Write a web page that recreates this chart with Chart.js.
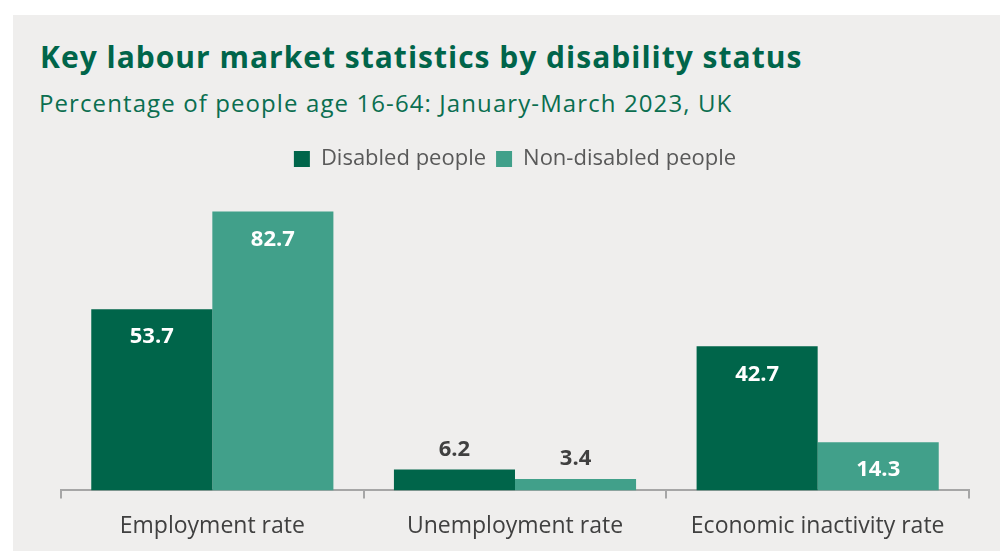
<!DOCTYPE html>
<html>
<head>
<meta charset="utf-8">
<script src="https://cdn.jsdelivr.net/npm/chart.js@4/dist/chart.umd.min.js"></script>
<style>
  body { margin: 0; background: #ffffff; overflow: hidden; }
  #panneau { position: absolute; left: 13px; top: 15px; width: 987px; height: 536px; background: #efeeed; }
  #titre { position: absolute; left: 40px; top: 42px; margin: 0; font: bold 30px "Open Sans", sans-serif; line-height: 1; letter-spacing: 1px; color: #00654a; white-space: nowrap; }
  #soustitre { position: absolute; left: 39px; top: 91px; margin: 0; font: 24px "Open Sans", sans-serif; line-height: 1; letter-spacing: 1.1px; color: #0b6e50; white-space: nowrap; }
  #graph { position: absolute; left: 0; top: 0; }
</style>
</head>
<body>
<div id="panneau"></div>
<h1 id="titre">Key labour market statistics by disability status</h1>
<h2 id="soustitre">Percentage of people age 16-64: January-March 2023, UK</h2>
<canvas id="graph" width="1000" height="564"></canvas>
<script>
const categories = ['Employment rate', 'Unemployment rate', 'Economic inactivity rate'];
const seriesNames = ['Disabled people', 'Non-disabled people'];
const valeursHandicap = [53.7, 6.2, 42.7];
const valeursSansHandicap = [82.7, 3.4, 14.3];

const vert = '#00654a';
const vertClair = '#41a08a';

// écrit la valeur de chaque barre : dedans en blanc si la barre est haute, au-dessus sinon
const etiquettes = {
    id: 'etiquettes',
    afterDatasetsDraw(chart) {
        const ctx = chart.ctx;
        ctx.save();
        ctx.font = 'bold 22px "Open Sans", sans-serif';
        ctx.textAlign = 'center';
        ctx.textBaseline = 'middle';
        chart.data.datasets.forEach((ds, i) => {
            chart.getDatasetMeta(i).data.forEach((bar, j) => {
                const v = ds.data[j];
                if (v > 10) {
                    ctx.fillStyle = '#ffffff';
                    ctx.fillText(v.toFixed(1), bar.x, bar.y + 28);
                } else {
                    ctx.fillStyle = '#404040';
                    ctx.fillText(v.toFixed(1), bar.x, bar.y - 20);
                }
            });
        });
        ctx.restore();
    }
};

new Chart(document.getElementById('graph'), {
    type: 'bar',
    data: {
        labels: categories,
        datasets: [
            { label: seriesNames[0], data: valeursHandicap, backgroundColor: vert },
            { label: seriesNames[1], data: valeursSansHandicap, backgroundColor: vertClair }
        ]
    },
    options: {
        responsive: false,
        animation: false,
        categoryPercentage: 0.8,
        barPercentage: 1.0,
        layout: { padding: { left: 61, right: 31, top: 138, bottom: 10 } },
        plugins: {
            legend: {
                position: 'top',
                labels: {
                    boxWidth: 16,
                    boxHeight: 16,
                    padding: 10,
                    color: '#595959',
                    font: { family: '"Open Sans", sans-serif', size: 22 }
                }
            },
            tooltip: { enabled: false }
        },
        scales: {
            x: {
                grid: { offset: true, drawOnChartArea: false, tickLength: 8, color: '#a6a6a6', lineWidth: 2 },
                border: { color: '#a6a6a6', width: 2 },
                ticks: { color: '#404040', padding: 14, font: { family: '"Open Sans", sans-serif', size: 23 } }
            },
            y: {
                display: false,
                min: 0,
                max: 92
            }
        }
    },
    plugins: [etiquettes]
});
</script>
</body>
</html>
